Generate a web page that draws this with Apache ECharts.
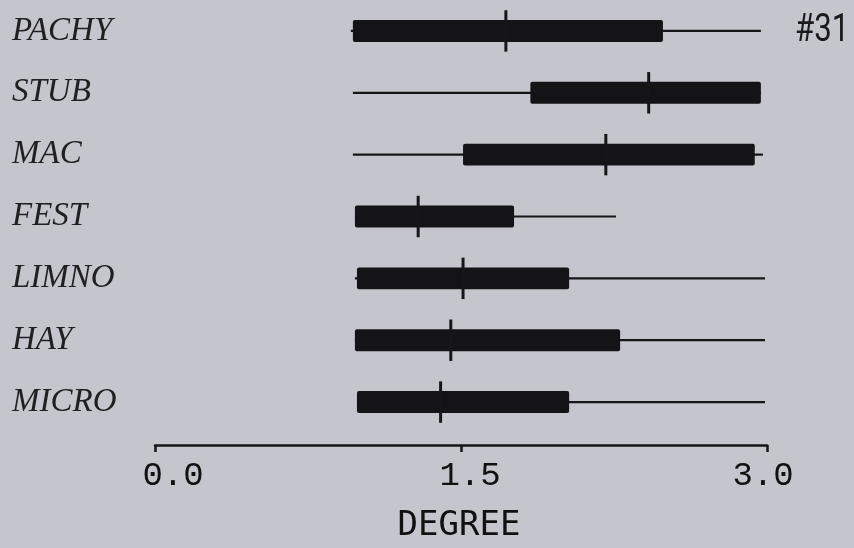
<!DOCTYPE html>
<html>
<head>
<meta charset="utf-8">
<script src="https://cdn.jsdelivr.net/npm/echarts@6/dist/echarts.min.js"></script>
<style>
  html, body { margin: 0; padding: 0; background: #c5c5cd; }
  #chart { width: 854px; height: 548px; }
</style>
</head>
<body>
<div id="chart"></div>
<script>
// Degree distributions per group: whisker (min..max), box (q1..q3), median tick
const categories = ['PACHY', 'STUB', 'MAC', 'FEST', 'LIMNO', 'HAY', 'MICRO'];
const minVals    = [0.96, 0.97, 0.97, 0.98, 0.98, 0.98, 0.99];
const q1Vals     = [0.97, 1.84, 1.51, 0.98, 0.99, 0.98, 0.99];
const medianVals = [1.72, 2.42, 2.21, 1.29, 1.51, 1.45, 1.40];
const q3Vals     = [2.49, 2.97, 2.94, 1.76, 2.03, 2.28, 2.03];
const maxVals    = [2.97, 2.97, 2.98, 2.26, 2.99, 2.99, 2.99];
const tickLabels = ['0.0', '1.5', '3.0'];
const tickStep = 1.5;
const plateLabel = '#31';

const rows = categories.map((c, i) => [i, minVals[i], q1Vals[i], medianVals[i], q3Vals[i], maxVals[i]]);

const ink = '#161618';
const tickFont = '"Liberation Mono", monospace';
const chart = echarts.init(document.getElementById('chart'), null, { renderer: 'canvas' });

chart.setOption({
  backgroundColor: '#c5c5cd',
  animation: false,
  graphic: [{
    type: 'text',
    x: 795,
    y: 12,
    scaleX: 0.8,
    style: {
      text: plateLabel,
      fontFamily: 'Roboto, sans-serif',
      fontSize: 39,
      fill: '#1a1a1c',
      textVerticalAlign: 'top'
    }
  }],
  grid: { left: 155, right: 87, top: 0, height: 435.2 },
  xAxis: {
    type: 'value',
    min: 0,
    max: 3,
    interval: tickStep,
    offset: 12,
    axisLine: { show: true, lineStyle: { color: ink, width: 2.5 } },
    axisTick: { show: true, length: 7, lineStyle: { color: ink, width: 2.5 } },
    splitLine: { show: false },
    axisLabel: {
      margin: 14,
      color: '#111',
      fontFamily: tickFont,
      fontSize: 34,
      formatter: v => {
        const k = Math.round(v / tickStep);
        return '{t' + k + '|' + tickLabels[k] + '}';
      },
      rich: {
        t0: { fontFamily: tickFont, fontSize: 34, color: '#111', padding: [0, 0, 0, 36] },
        t1: { fontFamily: tickFont, fontSize: 34, color: '#111', padding: [0, 0, 0, 18] },
        t2: { fontFamily: tickFont, fontSize: 34, color: '#111', padding: [0, 8, 0, 0] }
      }
    },
    name: 'DEGREE',
    nameLocation: 'middle',
    nameGap: 64,
    nameTextStyle: {
      fontFamily: '"DejaVu Sans Mono", monospace',
      fontSize: 34,
      color: '#111',
      padding: [0, 4, 0, 0]
    }
  },
  yAxis: {
    type: 'category',
    data: categories,
    inverse: true,
    axisLine: { show: false },
    axisTick: { show: false },
    splitLine: { show: false },
    axisLabel: {
      align: 'left',
      margin: 143,
      padding: [0, 0, 8, 0],
      color: '#202022',
      fontFamily: '"Liberation Serif", serif',
      fontStyle: 'italic',
      fontSize: 33
    }
  },
  series: [{
    type: 'custom',
    data: rows,
    encode: { x: [1, 2, 3, 4, 5], y: 0 },
    renderItem: (params, api) => {
      const idx = api.value(0);
      const pMin = api.coord([api.value(1), idx]);
      const pQ1 = api.coord([api.value(2), idx]);
      const pMed = api.coord([api.value(3), idx]);
      const pQ3 = api.coord([api.value(4), idx]);
      const pMax = api.coord([api.value(5), idx]);
      const band = api.size([0, 1])[1];
      const boxH = band * 0.355;
      const tickH = band * 0.67;
      const y = pQ1[1];
      return {
        type: 'group',
        children: [
          {
            type: 'line',
            shape: { x1: pMin[0], y1: y, x2: pMax[0], y2: y },
            style: { stroke: ink, lineWidth: 2.2 }
          },
          {
            type: 'rect',
            shape: { x: pQ1[0], y: y - boxH / 2, width: pQ3[0] - pQ1[0], height: boxH, r: 2 },
            style: { fill: '#141416' }
          },
          {
            type: 'line',
            shape: { x1: pMed[0], y1: y - tickH / 2, x2: pMed[0], y2: y + tickH / 2 },
            style: { stroke: ink, lineWidth: 3 }
          }
        ]
      };
    }
  }]
});
</script>
</body>
</html>
